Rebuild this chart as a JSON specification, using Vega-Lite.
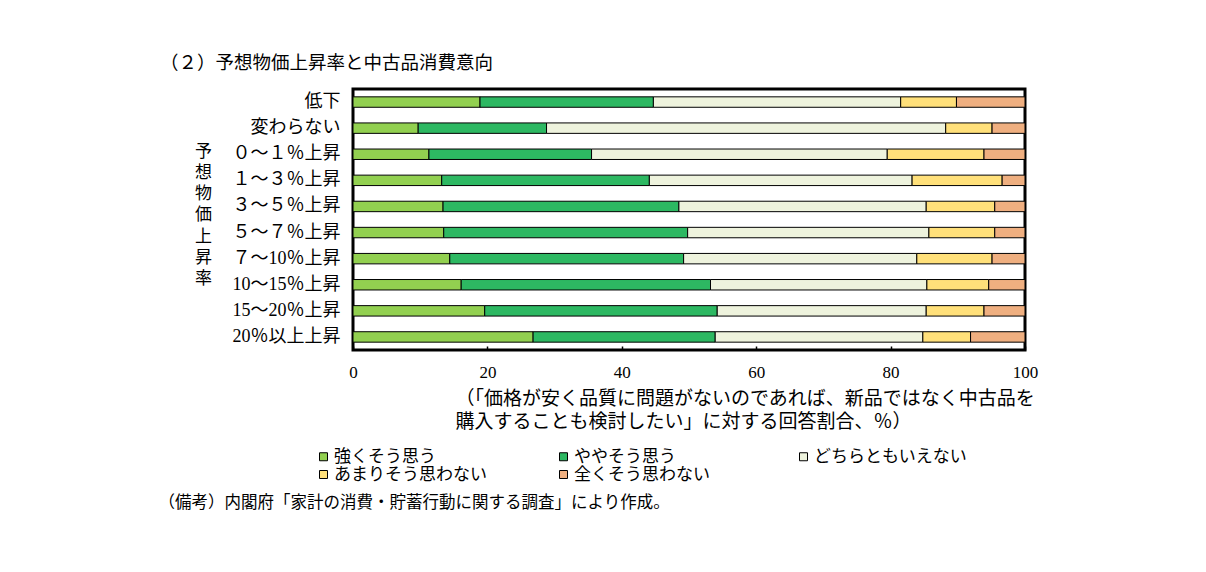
{
  "$schema": "https://vega.github.io/schema/vega-lite/v6.json",
  "autosize": {"type": "none"},
  "padding": {"left": 353, "top": 89, "right": 181, "bottom": 222},
  "width": 672,
  "height": 261,
  "background": "white",
  "title": {
    "text": "（２）予想物価上昇率と中古品消費意向",
    "anchor": "start",
    "frame": "group",
    "dx": -193,
    "offset": 17,
    "font": "Noto Sans CJK JP",
    "fontSize": 18.5,
    "fontWeight": "normal",
    "color": "black"
  },
  "config": {
    "view": {"stroke": "black", "strokeWidth": 3}
  },
  "data": {
    "values": [
      {"cat": "低下", "resp": "強くそう思う", "o": 1, "pct": 18.9},
      {"cat": "低下", "resp": "ややそう思う", "o": 2, "pct": 25.8},
      {"cat": "低下", "resp": "どちらともいえない", "o": 3, "pct": 36.8},
      {"cat": "低下", "resp": "あまりそう思わない", "o": 4, "pct": 8.3},
      {"cat": "低下", "resp": "全くそう思わない", "o": 5, "pct": 10.2},
      {"cat": "変わらない", "resp": "強くそう思う", "o": 1, "pct": 9.7},
      {"cat": "変わらない", "resp": "ややそう思う", "o": 2, "pct": 19.1},
      {"cat": "変わらない", "resp": "どちらともいえない", "o": 3, "pct": 59.4},
      {"cat": "変わらない", "resp": "あまりそう思わない", "o": 4, "pct": 6.9},
      {"cat": "変わらない", "resp": "全くそう思わない", "o": 5, "pct": 4.9},
      {"cat": "０～１％上昇", "resp": "強くそう思う", "o": 1, "pct": 11.3},
      {"cat": "０～１％上昇", "resp": "ややそう思う", "o": 2, "pct": 24.2},
      {"cat": "０～１％上昇", "resp": "どちらともいえない", "o": 3, "pct": 44.0},
      {"cat": "０～１％上昇", "resp": "あまりそう思わない", "o": 4, "pct": 14.4},
      {"cat": "０～１％上昇", "resp": "全くそう思わない", "o": 5, "pct": 6.1},
      {"cat": "１～３％上昇", "resp": "強くそう思う", "o": 1, "pct": 13.2},
      {"cat": "１～３％上昇", "resp": "ややそう思う", "o": 2, "pct": 30.9},
      {"cat": "１～３％上昇", "resp": "どちらともいえない", "o": 3, "pct": 39.1},
      {"cat": "１～３％上昇", "resp": "あまりそう思わない", "o": 4, "pct": 13.4},
      {"cat": "１～３％上昇", "resp": "全くそう思わない", "o": 5, "pct": 3.4},
      {"cat": "３～５％上昇", "resp": "強くそう思う", "o": 1, "pct": 13.4},
      {"cat": "３～５％上昇", "resp": "ややそう思う", "o": 2, "pct": 35.1},
      {"cat": "３～５％上昇", "resp": "どちらともいえない", "o": 3, "pct": 36.8},
      {"cat": "３～５％上昇", "resp": "あまりそう思わない", "o": 4, "pct": 10.2},
      {"cat": "３～５％上昇", "resp": "全くそう思わない", "o": 5, "pct": 4.5},
      {"cat": "５～７％上昇", "resp": "強くそう思う", "o": 1, "pct": 13.5},
      {"cat": "５～７％上昇", "resp": "ややそう思う", "o": 2, "pct": 36.3},
      {"cat": "５～７％上昇", "resp": "どちらともいえない", "o": 3, "pct": 35.9},
      {"cat": "５～７％上昇", "resp": "あまりそう思わない", "o": 4, "pct": 9.8},
      {"cat": "５～７％上昇", "resp": "全くそう思わない", "o": 5, "pct": 4.5},
      {"cat": "７～10％上昇", "resp": "強くそう思う", "o": 1, "pct": 14.4},
      {"cat": "７～10％上昇", "resp": "ややそう思う", "o": 2, "pct": 34.8},
      {"cat": "７～10％上昇", "resp": "どちらともいえない", "o": 3, "pct": 34.7},
      {"cat": "７～10％上昇", "resp": "あまりそう思わない", "o": 4, "pct": 11.2},
      {"cat": "７～10％上昇", "resp": "全くそう思わない", "o": 5, "pct": 4.9},
      {"cat": "10～15％上昇", "resp": "強くそう思う", "o": 1, "pct": 16.1},
      {"cat": "10～15％上昇", "resp": "ややそう思う", "o": 2, "pct": 37.1},
      {"cat": "10～15％上昇", "resp": "どちらともいえない", "o": 3, "pct": 32.2},
      {"cat": "10～15％上昇", "resp": "あまりそう思わない", "o": 4, "pct": 9.2},
      {"cat": "10～15％上昇", "resp": "全くそう思わない", "o": 5, "pct": 5.4},
      {"cat": "15～20％上昇", "resp": "強くそう思う", "o": 1, "pct": 19.6},
      {"cat": "15～20％上昇", "resp": "ややそう思う", "o": 2, "pct": 34.6},
      {"cat": "15～20％上昇", "resp": "どちらともいえない", "o": 3, "pct": 31.1},
      {"cat": "15～20％上昇", "resp": "あまりそう思わない", "o": 4, "pct": 8.6},
      {"cat": "15～20％上昇", "resp": "全くそう思わない", "o": 5, "pct": 6.1},
      {"cat": "20％以上上昇", "resp": "強くそう思う", "o": 1, "pct": 26.8},
      {"cat": "20％以上上昇", "resp": "ややそう思う", "o": 2, "pct": 27.1},
      {"cat": "20％以上上昇", "resp": "どちらともいえない", "o": 3, "pct": 30.9},
      {"cat": "20％以上上昇", "resp": "あまりそう思わない", "o": 4, "pct": 7.1},
      {"cat": "20％以上上昇", "resp": "全くそう思わない", "o": 5, "pct": 8.1}
    ]
  },
  "layer": [
    {
      "mark": {"type": "bar", "stroke": "black", "strokeWidth": 1},
      "encoding": {
        "y": {
          "field": "cat",
          "type": "nominal",
          "sort": ["低下", "変わらない", "０～１％上昇", "１～３％上昇", "３～５％上昇", "５～７％上昇", "７～10％上昇", "10～15％上昇", "15～20％上昇", "20％以上上昇"],
          "scale": {"paddingInner": 0.6, "paddingOuter": 0.3},
          "axis": {
            "title": ["予", "想", "物", "価", "上", "昇", "率"],
            "titleAngle": 0,
            "titleX": -150,
            "titleY": 54,
            "titleAlign": "center",
            "titleBaseline": "top",
            "titleLineHeight": 21.3,
            "titleFont": "Noto Sans CJK JP",
            "titleFontSize": 17,
            "titleFontWeight": "normal",
            "titleColor": "black",
            "labelFont": "Liberation Serif, Noto Sans CJK JP",
            "labelFontSize": 18,
            "labelColor": "black",
            "labelPadding": 13,
            "labelLimit": 250,
            "ticks": false,
            "domain": false
          }
        },
        "x": {
          "field": "pct",
          "type": "quantitative",
          "stack": "zero",
          "scale": {"domain": [0, 100], "nice": false},
          "axis": {
            "values": [0, 20, 40, 60, 80, 100],
            "grid": false,
            "domain": false,
            "tickSize": -4,
            "tickColor": "black",
            "tickWidth": 1.5,
            "labelFont": "Liberation Serif",
            "labelFontSize": 17,
            "labelColor": "black",
            "labelPadding": 18,
            "labelFlush": false,
            "title": ["（「価格が安く品質に問題がないのであれば、新品ではなく中古品を", "購入することも検討したい」に対する回答割合、％）"],
            "titleX": 102,
            "titleY": 39,
            "titleAlign": "left",
            "titleBaseline": "top",
            "titleLineHeight": 23,
            "titleFont": "Liberation Serif, Noto Sans CJK JP",
            "titleFontSize": 19,
            "titleFontWeight": "normal",
            "titleColor": "black"
          }
        },
        "color": {
          "field": "resp",
          "type": "nominal",
          "scale": {
            "domain": ["強くそう思う", "ややそう思う", "どちらともいえない", "あまりそう思わない", "全くそう思わない"],
            "range": ["#92D050", "#2DB862", "#EEF3DD", "#FFE07A", "#EFAF80"]
          },
          "legend": {
            "orient": "none",
            "legendX": -38,
            "legendY": 359,
            "direction": "horizontal",
            "columns": 3,
            "gridAlign": "all",
            "columnPadding": 68,
            "rowPadding": 0,
            "title": null,
            "symbolType": "square",
            "symbolSize": 64,
            "symbolStrokeColor": "black",
            "symbolStrokeWidth": 1,
            "labelFont": "Noto Sans CJK JP",
            "labelFontSize": 17,
            "labelOffset": 2,
            "labelColor": "black",
            "labelLimit": 300
          }
        },
        "order": {"field": "o", "type": "quantitative"}
      }
    },
    {
      "mark": {"type": "rule", "opacity": 0},
      "encoding": {
        "x": {
          "datum": 0,
          "type": "quantitative",
          "axis": {
            "orient": "bottom",
            "labels": false,
            "ticks": false,
            "domain": false,
            "grid": false,
            "title": "（備考）内閣府「家計の消費・貯蓄行動に関する調査」により作成。",
            "titleX": -195,
            "titleY": 144,
            "titleAlign": "left",
            "titleBaseline": "top",
            "titleFont": "Noto Sans CJK JP",
            "titleFontSize": 16.5,
            "titleFontWeight": "normal",
            "titleColor": "black"
          }
        }
      }
    }
  ],
  "resolve": {"axis": {"x": "independent"}}
}
